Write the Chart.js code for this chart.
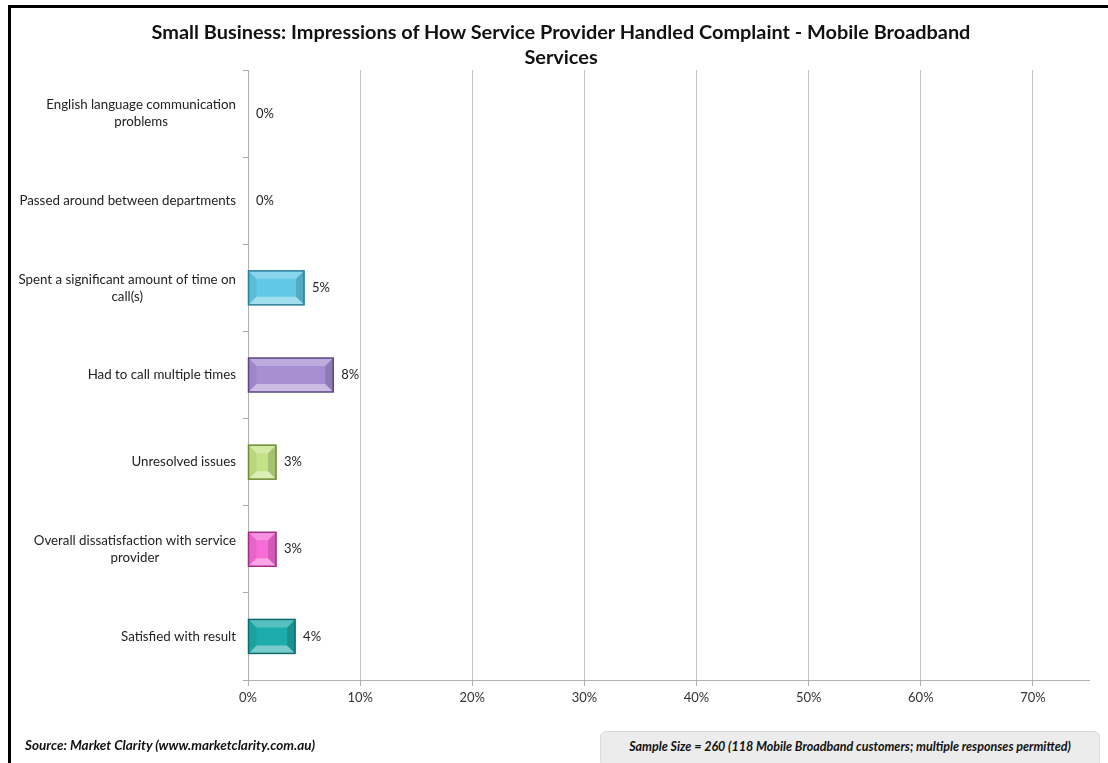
<!DOCTYPE html>
<html>
<head>
<meta charset="utf-8">
<script src="https://cdn.jsdelivr.net/npm/chart.js@4/dist/chart.umd.min.js"></script>
<style>
    body { margin: 0; background: #fff; font-family: Lato, "Open Sans", sans-serif; }
    #wrap { position: relative; width: 1108px; height: 763px; overflow: hidden; }
    #frame { position: absolute; left: 8px; top: 5px; width: 1200px; height: 900px; border-left: 3px solid #000; border-top: 3px solid #000; }
    #title { position: absolute; left: 100px; width: 922px; top: 19px; text-align: center; font-weight: bold; font-size: 19.9px; line-height: 25px; color: #111; }
    #source { position: absolute; left: 25px; top: 737px; font-size: 13.5px; font-weight: bold; font-style: italic; color: #111; }
    #sample { position: absolute; left: 600px; top: 731px; width: 498px; height: 34px; background: #ececec; border: 1px solid #dadada; border-radius: 6px; font-size: 12.5px; font-weight: bold; font-style: italic; color: #111; text-align: center; line-height: 30px; }
    canvas { position: absolute; left: 0; top: 0; }
</style>
</head>
<body>
<div id="wrap">
    <div id="frame"></div>
    <canvas id="chart" width="1108" height="763"></canvas>
    <div id="title">Small Business: Impressions of How Service Provider Handled Complaint - Mobile Broadband<br>Services</div>
    <div id="source">Source: Market Clarity (www.marketclarity.com.au)</div>
    <div id="sample">Sample Size = 260 (118 Mobile Broadband customers; multiple responses permitted)</div>
</div>
<script>
// Chart data
const categories = [
    ['English language communication', 'problems'],
    ['Passed around between departments'],
    ['Spent a significant amount of time on', 'call(s)'],
    ['Had to call multiple times'],
    ['Unresolved issues'],
    ['Overall dissatisfaction with service', 'provider'],
    ['Satisfied with result']
];
const shares = [0, 0, 0.05, 0.076, 0.025, 0.025, 0.042];
const tickValues = [0, 0.1, 0.2, 0.3, 0.4, 0.5, 0.6, 0.7];
const barColors = ['#61c9e6', '#61c9e6', '#61c9e6', '#a88fd3', '#c4e389', '#f76bd6', '#1eabab'];
const barEdges = ['#2a7f99', '#2a7f99', '#2a7f99', '#5b4585', '#6f8a2e', '#a02d86', '#0d6b6b'];

const FONT = 'Lato, "Open Sans", sans-serif';

// Bevel look for the bars + value labels + centred category labels
const bevelPlugin = {
    id: 'bevel',
    afterDatasetsDraw(chart) {
        const ctx = chart.ctx;
        const meta = chart.getDatasetMeta(0);
        meta.data.forEach((bar, i) => {
            const props = bar.getProps(['x', 'y', 'base', 'height'], true);
            const x0 = props.base, x1 = props.x;
            const y0 = props.y - props.height / 2, y1 = props.y + props.height / 2;
            const w = x1 - x0;
            if (w > 2) {
                const b = Math.min(8, w / 2);
                ctx.save();
                // top face
                ctx.fillStyle = 'rgba(255,255,255,0.25)';
                ctx.beginPath();
                ctx.moveTo(x0, y0); ctx.lineTo(x1, y0); ctx.lineTo(x1 - b, y0 + b); ctx.lineTo(x0 + b, y0 + b);
                ctx.fill();
                // bottom face
                ctx.fillStyle = 'rgba(255,255,255,0.40)';
                ctx.beginPath();
                ctx.moveTo(x0, y1); ctx.lineTo(x1, y1); ctx.lineTo(x1 - b, y1 - b); ctx.lineTo(x0 + b, y1 - b);
                ctx.fill();
                // left face
                ctx.fillStyle = 'rgba(0,0,0,0.06)';
                ctx.beginPath();
                ctx.moveTo(x0, y0); ctx.lineTo(x0 + b, y0 + b); ctx.lineTo(x0 + b, y1 - b); ctx.lineTo(x0, y1);
                ctx.fill();
                // right face
                ctx.fillStyle = 'rgba(0,0,0,0.15)';
                ctx.beginPath();
                ctx.moveTo(x1, y0); ctx.lineTo(x1 - b, y0 + b); ctx.lineTo(x1 - b, y1 - b); ctx.lineTo(x1, y1);
                ctx.fill();
                // edge
                ctx.strokeStyle = barEdges[i];
                ctx.lineWidth = 1.5;
                ctx.strokeRect(x0, y0, w, y1 - y0);
                ctx.restore();
            }
            // value label
            ctx.save();
            ctx.font = '13px ' + FONT;
            ctx.fillStyle = '#222';
            ctx.textAlign = 'left';
            ctx.textBaseline = 'middle';
            ctx.fillText(Math.round(shares[i] * 100) + '%', x1 + 8, props.y);
            ctx.restore();
        });

        // category labels, lines centred in a right-aligned block
        const yScale = chart.scales.y;
        ctx.save();
        ctx.font = '13.3px ' + FONT;
        ctx.fillStyle = '#222';
        ctx.textBaseline = 'middle';
        ctx.textAlign = 'center';
        const right = yScale.right - 12;
        const lh = 17;
        categories.forEach((lines, i) => {
            const cy = yScale.getPixelForValue(i);
            const bw = Math.max(...lines.map(l => ctx.measureText(l).width));
            const cx = right - bw / 2;
            lines.forEach((l, k) => {
                ctx.fillText(l, cx, cy + (k - (lines.length - 1) / 2) * lh);
            });
        });
        ctx.restore();
    }
};

new Chart(document.getElementById('chart'), {
    type: 'bar',
    data: {
        labels: categories.map(c => c.join(' ')),
        datasets: [{
            data: shares,
            backgroundColor: barColors,
            borderWidth: 0,
            barPercentage: 0.39,
            categoryPercentage: 1
        }]
    },
    options: {
        indexAxis: 'y',
        responsive: false,
        animation: false,
        layout: { padding: { top: 70, right: 19, left: 0, bottom: 0 } },
        plugins: {
            legend: { display: false },
            tooltip: { enabled: false }
        },
        scales: {
            x: {
                min: 0,
                max: 0.75,
                afterBuildTicks(scale) {
                    scale.ticks = tickValues.map(v => ({ value: v }));
                },
                afterFit(scale) { scale.height = 83; },
                grid: { color: '#c4c4c4', lineWidth: 1, tickLength: 6, tickColor: '#b0b0b0' },
                border: { color: '#b0b0b0' },
                ticks: {
                    padding: 4,
                    color: '#333',
                    font: { family: FONT, size: 13 },
                    callback: v => Math.round(v * 100) + '%'
                }
            },
            y: {
                afterFit(scale) { scale.width = 248; },
                grid: { drawOnChartArea: false, offset: true, tickLength: 5, color: '#a8a8a8' },
                border: { color: '#b0b0b0' },
                ticks: { display: false }
            }
        }
    },
    plugins: [bevelPlugin]
});
</script>
</body>
</html>
